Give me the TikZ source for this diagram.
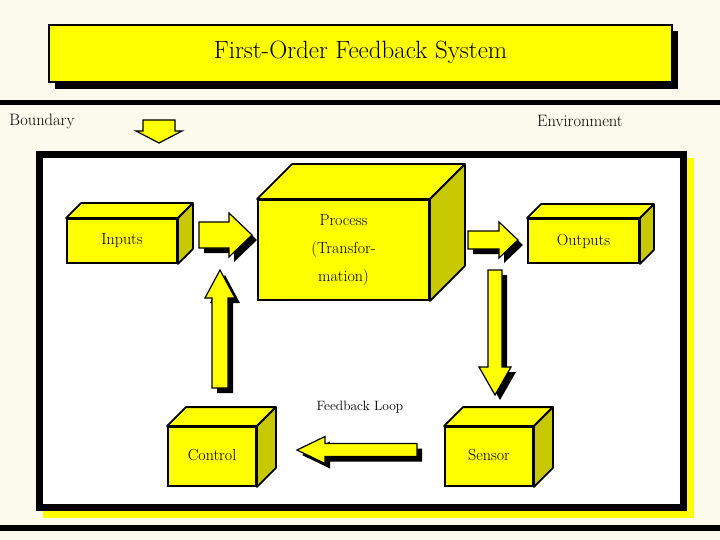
\documentclass[tikz,border=0pt]{standalone}
\usepackage{fontspec}
\usepackage{tikz}
\definecolor{cream}{HTML}{FBFAEC}
\definecolor{yel}{HTML}{FFFF00}
\definecolor{sidey}{HTML}{C8C800}
\tikzset{
  face/.style={draw=black,fill=yel,line width=1.8pt,inner sep=0pt,font=\fontsize{16}{19}\selectfont},
  topface/.style={draw=black,fill=yel,line width=1.8pt,line join=round},
  sideface/.style={draw=black,fill=sidey,line width=1.8pt,line join=round},
  arr/.style={draw=black,fill=yel,line width=1.2pt,line join=miter},
  lbl/.style={font=\fontsize{16.5}{19}\selectfont,inner sep=0pt}
}
% #1 node, #2 depth
\newcommand{\cubeparts}[2]{%
  \draw[topface] (#1.north west) -- ++(#2,-#2) -- ([shift={(#2,-#2)}]#1.north east) -- (#1.north east) -- cycle;
  \draw[sideface] (#1.north east) -- ([shift={(#2,-#2)}]#1.north east) -- ([shift={(#2,-#2)}]#1.south east) -- (#1.south east) -- cycle;}
% block arrow: #1 x, #2 y, #3 rotation, #4 length, #5 head start, #6 shaft half, #7 head half
\newcommand{\blkarrow}[7]{%
  \begin{scope}[shift={(#1+5,#2+5)},rotate=#3]
    \fill[black] (0,-#6) -- (#5,-#6) -- (#5,-#7) -- (#4,0) -- (#5,#7) -- (#5,#6) -- (0,#6) -- cycle;
  \end{scope}
  \begin{scope}[shift={(#1,#2)},rotate=#3]
    \draw[arr] (0,-#6) -- (#5,-#6) -- (#5,-#7) -- (#4,0) -- (#5,#7) -- (#5,#6) -- (0,#6) -- cycle;
  \end{scope}}
\begin{document}
\begin{tikzpicture}[x=1pt,y=-1pt]
  \useasboundingbox (0,0) rectangle (720,540);
  \fill[cream] (0,0) rectangle (720,540);
  % title
  \fill[black] (55,31) rectangle (678,89);
  \node[draw=black,fill=yel,line width=1.5pt,minimum width=623pt,minimum height=57pt,
        font=\fontsize{25}{30}\selectfont] (title) at (360.5,53.5) {\raisebox{7pt}{First-Order Feedback System}};
  % separator lines
  \fill[black] (0,100) rectangle (720,105);
  \fill[black] (0,525) rectangle (720,531);
  \node[lbl] (boundary) at (42,121) {Boundary};
  \node[lbl] (env) at (580,121) {Environment};
  \draw[arr] (143,120) -- (175,120) -- (175,131) -- (182,131) -- (159,143) -- (136,131) -- (143,131) -- cycle;
  % system box
  \fill[yel] (43,158) rectangle (694,518);
  \draw[black,fill=white,line width=7pt] (39.5,154.5) rectangle (683.5,507.5);
  % blocks
  \node[face,minimum width=110pt,minimum height=44pt] (inputs) at (122,241) {\raisebox{3pt}{Inputs}};
  \cubeparts{inputs}{15}
  \node[face,minimum width=111pt,minimum height=44pt] (outputs) at (583.5,241) {\raisebox{3pt}{Outputs}};
  \cubeparts{outputs}{14}
  \node[face,minimum width=171pt,minimum height=100pt,align=center] (process) at (343.5,250)
        {Process\\[9pt](Transfor-\\[9pt]mation)};
  \cubeparts{process}{35}
  \node[face,minimum width=88pt,minimum height=59pt] (control) at (212,456.5) {\raisebox{3pt}{Control}};
  \cubeparts{control}{19}
  \node[face,minimum width=88pt,minimum height=59pt] (sensor) at (489,456.5) {\raisebox{3pt}{Sensor}};
  \cubeparts{sensor}{19}
  \node[inner sep=0pt,font=\fontsize{13.5}{16}\selectfont] (loop) at (360,407) {Feedback Loop};
  % flow arrows
  \blkarrow{199}{235}{0}{53}{30}{13}{22}
  \blkarrow{468}{240}{0}{50}{31}{9}{18}
  \blkarrow{495}{270}{-90}{125}{97}{7}{16}
  \blkarrow{220}{388}{90}{118}{90}{8}{15}
  \blkarrow{417}{450}{180}{120}{92}{6.5}{13.5}
\end{tikzpicture}
\end{document}
